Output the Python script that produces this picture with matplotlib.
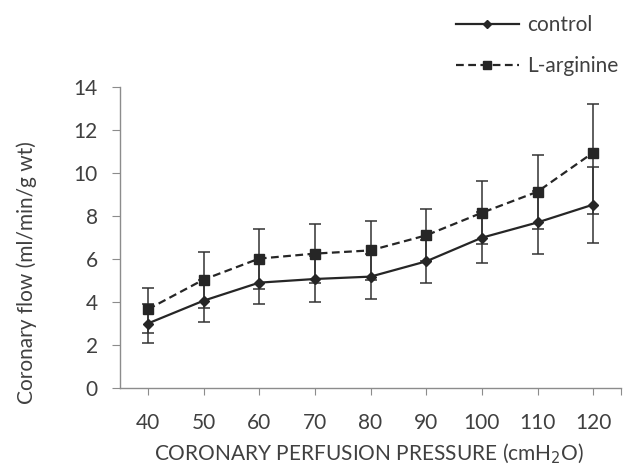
import matplotlib
matplotlib.use("Agg")
import matplotlib.pyplot as plt
import numpy as np

categories = ["40", "50", "60", "70", "80", "90", "100", "110", "120"]
control = [3.0, 4.06, 4.9, 5.07, 5.18, 5.89, 6.99, 7.7, 8.53]
control_err = [0.9, 0.98, 1.0, 1.05, 1.06, 1.0, 1.18, 1.45, 1.77]
larg = [3.66, 5.04, 6.02, 6.25, 6.4, 7.1, 8.15, 9.13, 10.95]
larg_err_low = [1.1, 1.31, 1.42, 1.36, 1.37, 1.21, 1.44, 1.74, 2.86]
larg_err_high = [1.0, 1.3, 1.36, 1.36, 1.37, 1.21, 1.48, 1.7, 2.27]
yticks = [0, 2, 4, 6, 8, 10, 12, 14]

plt.rcParams['font.family'] = ['Lato', 'DejaVu Sans']
txt = '#404040'
ax_col = '#8c8c8c'
fs = 15

fig = plt.figure(figsize=(6.27, 4.69), dpi=100)
ax = fig.add_axes([120/627, 1-388/469, (621-120)/627, (388-87)/469])

x = np.arange(len(categories))
ax.errorbar(x, control, yerr=control_err, fmt='none', ecolor='#333333',
            elinewidth=1.1, capsize=4.5, capthick=1.1, zorder=2)
ax.errorbar(x, larg, yerr=[larg_err_low, larg_err_high], fmt='none', ecolor='#333333',
            elinewidth=1.1, capsize=4.5, capthick=1.1, zorder=2)
l1, = ax.plot(x, control, color='#262626', lw=1.6, marker='D', ms=5.5,
              label='control', zorder=3)
l2, = ax.plot(x, larg, color='#262626', lw=1.6, ls=(0, (3.5, 2)), marker='s', ms=6.5,
              label='L-arginine', zorder=3)

ax.set_xlim(-0.5, len(categories) - 0.5)
ax.set_ylim(0, 14)
ax.set_yticks(yticks)
ax.set_xticks(list(x) + [len(categories) - 0.5])
ax.set_xticklabels(categories + [''])
for s in ['top', 'right']:
    ax.spines[s].set_visible(False)
for s in ['left', 'bottom']:
    ax.spines[s].set_color(ax_col)
    ax.spines[s].set_linewidth(1.0)
ax.tick_params(axis='y', direction='out', length=6, color=ax_col, labelsize=fs,
               labelcolor=txt, pad=10)
ax.tick_params(axis='x', direction='out', length=5, color=ax_col, labelsize=fs,
               labelcolor=txt, pad=13)
ax.set_xlabel('CORONARY PERFUSION PRESSURE (cmH$_2$O)', fontsize=fs, color=txt)
ax.set_ylabel('Coronary flow (ml/min/g wt)', fontsize=fs, color=txt)
ax.xaxis.set_label_coords((369-120)/501, -(442-388)/301)
ax.yaxis.set_label_coords(-(120-37)/501, (388-273)/301)

leg = fig.legend(handles=[l1, l2], loc='upper left', bbox_to_anchor=(456/627, 1-15/469),
                 frameon=False, fontsize=fs, handlelength=3.0, labelspacing=1.0,
                 handletextpad=0.4, labelcolor=txt, borderpad=0, borderaxespad=0,
                 markerscale=0.8)

fig.savefig('out.png', dpi=100)
